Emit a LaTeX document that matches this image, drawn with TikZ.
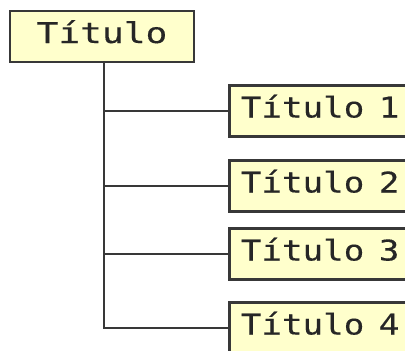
\documentclass[tikz,border=0pt]{standalone}
\usepackage{fontspec}
\newfontfamily\monoT[FakeStretch=1.27,FakeBold=0.3]{DejaVu Sans Mono}
\newfontfamily\monoC[FakeStretch=1.2,FakeBold=0.3]{DejaVu Sans Mono}
\newcommand\childfont{\monoC\fontsize{28.5}{30}\selectfont}
\newcommand\gap{\hspace{5pt}}
\definecolor{boxfill}{HTML}{FFFFCC}
\definecolor{edge}{HTML}{383838}
\tikzset{
  box/.style={draw=edge, fill=boxfill, line width=2.6pt, rectangle, inner ysep=0pt,
    text height=22pt, text depth=9pt, minimum height=51pt, text=black!85},
  childbox/.style={box, anchor=west, text width=180pt, align=left, inner xsep=11.5pt,
    font=\childfont},
  conn/.style={draw=edge, line width=2.8pt}
}
\begin{document}
\begin{tikzpicture}[x=1pt,y=1pt]
\useasboundingbox (0,0) rectangle (405,-351);
\clip (0,0) rectangle (405,-351);
\node[box, minimum width=184pt, inner xsep=0pt, font=\monoT\fontsize{28.5}{30}\selectfont] (t) at (102,-36.5) {Título};
\node[childbox] (c1) at (228,-111) {Título\gap{} 1};
\node[childbox] (c2) at (228,-186) {Título\gap{} 2};
\node[childbox] (c3) at (228,-254) {Título\gap{} 3};
\node[childbox] (c4) at (228,-328) {Título\gap{} 4};
\draw[conn] ([xshift=2pt]t.south) |- (c1.west);
\draw[conn] ([xshift=2pt]t.south) |- (c2.west);
\draw[conn] ([xshift=2pt]t.south) |- (c3.west);
\draw[conn] ([xshift=2pt]t.south) |- (c4.west);
\end{tikzpicture}
\end{document}
